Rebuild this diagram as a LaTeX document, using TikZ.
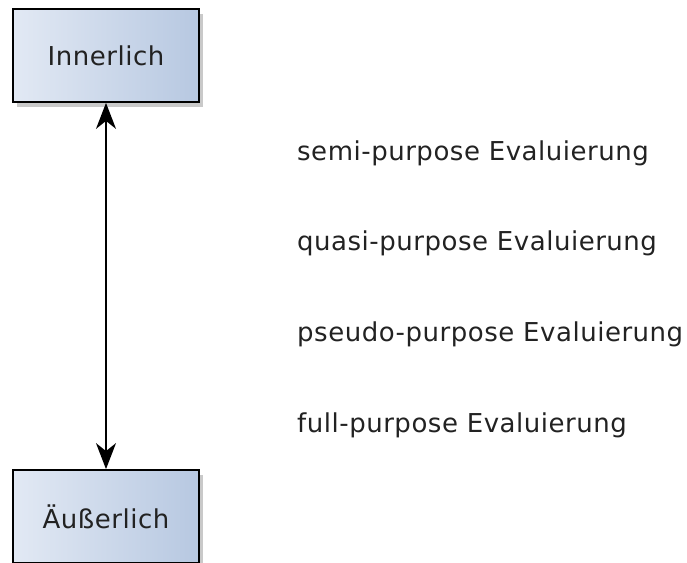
\documentclass[tikz,border=0pt]{standalone}
\usepackage{fontspec}
\setmainfont{DejaVu Sans}[LetterSpace=2]
\usetikzlibrary{arrows.meta,shadows}
\definecolor{boxleft}{HTML}{E2E9F4}
\definecolor{boxright}{HTML}{B7C8E1}
\definecolor{txt}{HTML}{222222}
\tikzset{
  levelbox/.style={draw=black, line width=1.8pt, minimum width=186pt, minimum height=93pt,
    left color=boxleft, right color=boxright, inner sep=0pt,
    drop shadow={shadow xshift=4pt, shadow yshift=-5pt, opacity=0.3, fill=black!70},
    font=\fontsize{26}{30}\selectfont, text=txt},
  kind/.style={anchor=base west, inner sep=0pt, font=\fontsize{26}{30}\selectfont, text=txt},
  tip/.style={Stealth[length=26pt,width=20pt,inset=8pt]},
  link/.style={line width=1.6pt, {Stealth[length=26pt,width=20pt,inset=8pt]}-{Stealth[length=26pt,width=20pt,inset=8pt]}}
}
\begin{document}
\begin{tikzpicture}[x=1pt,y=-1pt]
\useasboundingbox (0,0) rectangle (687,562);
\begin{scope}
\clip (0,0) rectangle (687,562);
\node[levelbox] (inner) at (106,55.5) {Innerlich};
\node[levelbox] (outer) at (106,516.5) {Äußerlich};
\draw[link] (inner.south) -- (outer.north);
\node[kind] (semi) at (297,160) {semi-purpose Evaluierung};
\node[kind] (quasi) at (297,250) {quasi-purpose Evaluierung};
\node[kind] (pseudo) at (297,341) {pseudo-purpose Evaluierung};
\node[kind] (full) at (297,432) {full-purpose Evaluierung};
\end{scope}
\end{tikzpicture}
\end{document}
